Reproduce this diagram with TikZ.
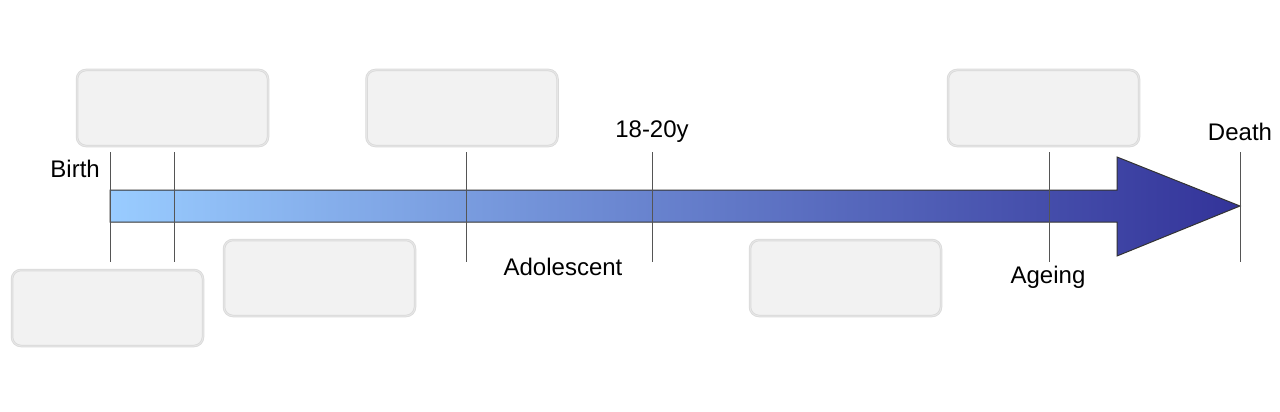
\documentclass[tikz,border=0pt]{standalone}
\usepackage{fontspec}
\setmainfont{Liberation Sans}
\usetikzlibrary{positioning}
\definecolor{boxfill}{HTML}{F2F2F2}
\definecolor{boxedge}{HTML}{D9D9D9}
\definecolor{boxedgein}{HTML}{E6E6E6}
\definecolor{lightblue}{HTML}{99CCFF}
\definecolor{darkblue}{HTML}{333399}
\definecolor{edge}{HTML}{333333}
\definecolor{tick}{HTML}{555555}
\begin{document}
\begin{tikzpicture}[x=1pt,y=-1pt,
  blankbox/.style={draw=boxedge, line width=2.5pt, fill=boxfill, rounded corners=9pt,
    minimum width=191pt, minimum height=76pt, inner sep=0pt,
    postaction={draw=boxedgein, line width=1pt, rounded corners=9pt}},
  tickline/.style={draw=tick, line width=1pt},
  lbl/.style={inner sep=0pt, font=\fontsize{24}{28}\selectfont}]
\useasboundingbox (0,0) rectangle (1280,412);
% arrow
\path[left color=lightblue, right color=darkblue, draw=edge, line width=1pt]
  (110,190) -- (1117,190) -- (1117,157) -- (1240,206) -- (1117,256) -- (1117,222) -- (110,222) -- cycle;
% boxes
\node[blankbox] (b1) at (172.5,108) {};
\node[blankbox] (b2) at (462,108) {};
\node[blankbox] (b3) at (1043.5,108) {};
\node[blankbox] (b4) at (107.5,308) {};
\node[blankbox] (b5) at (319.5,278) {};
\node[blankbox] (b6) at (845.5,278) {};
% tick lines
\foreach \n/\x in {birth/110, early/174, mid/466, adult/652, age/1049, death/1240}{
  \coordinate (\n t) at (\x,152);
  \coordinate (\n b) at (\x,262);
  \draw[tickline] (\n t) -- (\n b);
}
% labels
\node[lbl, anchor=east] (lbirth) at (100,169) {Birth};
\node[lbl] (ladult) at (652,132) {18-20y};
\node[lbl] (ladol) at (563,267) {Adolescent};
\node[lbl] (lage) at (1048,277) {Ageing};
\node[lbl] (ldeath) at (1240,132) {Death};
\end{tikzpicture}
\end{document}
